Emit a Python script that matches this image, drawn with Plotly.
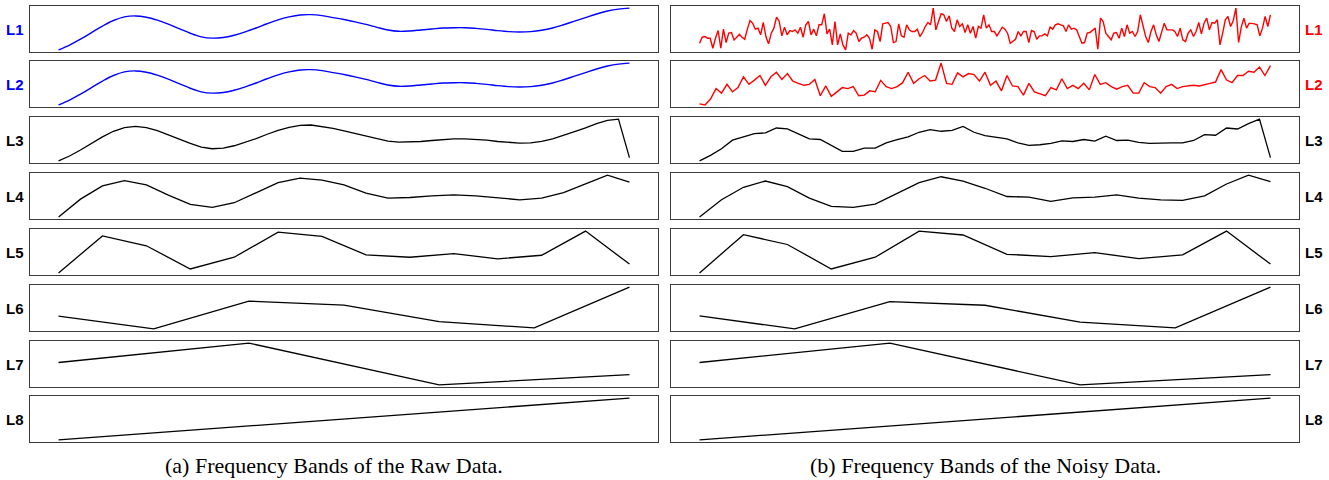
import plotly.graph_objects as go

W, H = 1329, 480

# ---------------- data (heights, arbitrary units) ----------------
row_labels = ["L1", "L2", "L3", "L4", "L5", "L6", "L7", "L8"]
caption_raw = "(a) Frequency Bands of the Raw Data."
caption_noisy = "(b) Frequency Bands of the Noisy Data."

raw_L1 = [7, 22, 40, 60, 80, 97, 108, 111, 107, 98, 86, 72, 58, 47, 43, 45, 52, 62, 74, 87,
          99, 108, 114, 115, 112, 106,
          100, 93, 85, 76, 68, 64, 65, 68, 71, 74, 75, 75, 73, 70, 66, 63, 62, 63, 67, 74,
          84, 95, 106, 117, 126, 132, 135]
raw_L2 = [7, 22, 40, 60, 80, 97, 108, 111, 107, 98, 86, 72, 58, 47, 43, 45, 52, 62, 74, 87,
          99, 108, 114, 115, 112, 106,
          100, 93, 85, 76, 68, 64, 65, 68, 71, 74, 75, 75, 73, 70, 66, 63, 62, 63, 67, 74,
          84, 95, 106, 117, 126, 132, 135]
raw_L3 = [5, 20, 38, 58, 78, 95, 106, 110, 106, 97, 85, 71, 58, 47, 42, 44, 51, 61, 73, 86,
          98, 107, 113, 114, 110, 104,
          96, 88, 79, 71, 65, 62, 62, 64, 67, 70, 72, 72, 71, 68, 64, 61, 59, 60, 64, 72,
          82, 94, 105, 118, 128, 132, 15]
raw_L4 = [4, 58, 98, 114, 101, 70, 42, 33, 47, 78, 108, 122, 116,
          101, 76, 61, 63, 68, 71, 68, 61, 56, 61, 78, 104, 131, 110]
raw_L5 = [5, 118, 88, 17, 53, 130, 117, 60, 53, 64, 48, 59, 133, 32]
raw_L6 = [46, 7, 92, 80, 29, 10, 135]
raw_L7 = [73, 132, 5, 36]
raw_L8 = [4, 132]

noisy_L1 = [25, 43, 45, 40, 40, 10, 40, 63, 10, 67, 27, 55, 57, 35, 43, 52, 43, 37, 67, 93,
            85, 67, 70, 50, 87, 45, 23, 55, 70, 103, 90, 47, 73, 50, 63, 60, 65, 55, 73, 43,
            80, 90, 50, 67, 47, 80, 80, 113, 53, 67, 20, 90, 20, 53, 20, 5, 55, 50, 63, 55,
            30, 40, 43, 50, 40, 7, 65, 60, 30, 83, 85, 87, 75, 27, 30, 83, 47, 43, 80, 65,
            60, 60, 67, 45, 57, 75, 87, 80, 130, 65, 90, 113, 110, 90, 107, 70, 60, 95, 75, 83,
            57, 80, 55, 75, 40, 75, 70, 110, 70, 80,
            60, 60, 47, 60, 73, 67, 55, 25, 30, 37, 60, 47, 60, 60, 27, 63, 60, 37, 47, 47,
            53, 47, 73, 67, 80, 83, 80, 77, 60, 80, 67, 70, 65, 47, 25, 27, 55, 57, 63, 70,
            7, 100, 90, 55, 45, 35, 55, 57, 40, 70, 45, 80, 55, 60, 45, 60, 110, 80, 45, 27,
            60, 80, 50, 30, 60, 85, 65, 65, 65, 60, 45, 70, 35, 30, 55, 65, 45, 60, 87, 53,
            85, 100, 65, 87, 85, 95, 20, 55, 95, 105, 75, 93, 130, 27, 73, 100, 70, 85, 85, 83,
            80, 47, 70, 105, 75, 110]
noisy_L2 = [8, 5, 23, 55, 41, 68, 45, 58, 91, 68, 81, 95, 65, 91, 105, 83, 101, 78, 71, 65,
            68, 83, 33, 63, 31, 45, 58, 55, 61, 33, 35, 48, 45, 80, 61, 55, 61, 73, 105, 71,
            85, 95, 78, 81, 133, 71, 68, 103, 91, 101, 98, 78, 105,
            65, 78, 48, 95, 63, 61, 35, 71, 45, 40, 33, 58, 51, 85, 55, 65, 55, 71, 51, 98,
            68, 73, 61, 53, 61, 65, 41, 41, 73, 61, 58, 41, 61, 68, 55, 61, 63, 65, 63, 68,
            71, 75, 113, 81, 73, 95, 95, 108, 105, 121, 95, 125]
noisy_L3 = [5, 22, 42, 68, 78, 88, 90, 105, 102, 88, 72, 70, 52, 34, 34, 44, 44, 60, 70, 78,
            92, 100, 95, 98, 110, 92, 82, 78,
            72, 60, 52, 54, 58, 66, 64, 70, 65, 80, 67, 68, 61, 58, 60, 60, 60, 67, 85, 83,
            105, 102, 118, 132, 15]
noisy_L4 = [5, 57, 95, 114, 97, 62, 37, 34, 44, 77, 109, 127, 114, 92,
            67, 65, 52, 63, 65, 72, 62, 57, 55, 69, 105, 132, 112]
noisy_L5 = [5, 122, 92, 17, 53, 133, 121, 62, 55, 67, 49, 60, 133, 32]
noisy_L6 = [48, 8, 92, 81, 29, 11, 137]
noisy_L7 = [73, 132, 5, 36]
noisy_L8 = [4, 132]

raw_series = [raw_L1, raw_L2, raw_L3, raw_L4, raw_L5, raw_L6, raw_L7, raw_L8]
noisy_series = [noisy_L1, noisy_L2, noisy_L3, noisy_L4, noisy_L5, noisy_L6, noisy_L7, noisy_L8]

BLUE, RED, BLACK = "#0000ff", "#ff0000", "#000000"
raw_colors = [BLUE, BLUE] + [BLACK] * 6
noisy_colors = [RED, RED] + [BLACK] * 6

# ---------------- layout geometry (pixels) ----------------
cols = [
    (raw_series, raw_colors, 30, 658),
    (noisy_series, noisy_colors, 671, 1299),
]
row_top0, row_step, row_h = 5.5, 55.85, 46

fig = go.Figure()
layout = {}
annotations = []

for r in range(8):
    top = round(row_top0 + r * row_step)
    y0 = 1 - (top + row_h) / H
    y1 = 1 - top / H
    for c, (series, colors, px0, px1) in enumerate(cols):
        idx = r * 2 + c + 1
        suf = "" if idx == 1 else str(idx)
        vals = series[r]
        n = len(vals)
        xs = list(range(n))
        pad_x = 0.05 * (n - 1)
        lo, hi = min(vals), max(vals)
        pad_y = 0.05 * (hi - lo)
        smooth = (c == 0 and r < 2)
        fig.add_trace(go.Scatter(
            x=xs, y=vals, mode="lines",
            line=dict(color=colors[r], width=1.4 if r < 2 else 1.3,
                      shape="spline" if smooth else "linear"),
            xaxis="x" + suf, yaxis="y" + suf,
            showlegend=False, hoverinfo="skip"))
        common = dict(showgrid=False, zeroline=False, showticklabels=False, ticks="",
                      showline=True, mirror=True, linecolor="#3a3a3a", linewidth=1.2,
                      fixedrange=True)
        layout["xaxis" + suf] = dict(domain=[px0 / W, px1 / W], range=[-pad_x, n - 1 + pad_x],
                                     anchor="y" + suf, **common)
        layout["yaxis" + suf] = dict(domain=[y0, y1], range=[lo - pad_y, hi + pad_y],
                                     anchor="x" + suf, **common)

    yc = 1 - (top + row_h / 2) / H
    annotations.append(dict(
        x=25.5 / W, y=yc, xref="paper", yref="paper", xanchor="right", yanchor="middle",
        text="<b>%s</b>" % row_labels[r], showarrow=False,
        font=dict(family="Liberation Sans, Arial, sans-serif", size=15, color=raw_colors[r])))
    annotations.append(dict(
        x=1302.5 / W, y=yc, xref="paper", yref="paper", xanchor="left", yanchor="middle",
        text="<b>%s</b>" % row_labels[r], showarrow=False,
        font=dict(family="Liberation Sans, Arial, sans-serif", size=15, color=noisy_colors[r])))

cap_y = 1 - 465 / H
annotations.append(dict(x=334 / W, y=cap_y, xref="paper", yref="paper", xanchor="center",
                        yanchor="middle", text=caption_raw, showarrow=False,
                        font=dict(family="Liberation Serif, Times New Roman, serif", size=22,
                                  color="#000000")))
annotations.append(dict(x=985 / W, y=cap_y, xref="paper", yref="paper", xanchor="center",
                        yanchor="middle", text=caption_noisy, showarrow=False,
                        font=dict(family="Liberation Serif, Times New Roman, serif", size=22,
                                  color="#000000")))

fig.update_layout(
    width=W, height=H, autosize=False,
    margin=dict(l=0, r=0, t=0, b=0, pad=0),
    paper_bgcolor="white", plot_bgcolor="white",
    annotations=annotations,
    **layout,
)

fig.write_html(
    "out.html",
    config={"displayModeBar": False, "staticPlot": True},
    post_script="document.body.style.margin='0';document.body.style.padding='0';"
                "document.body.style.overflow='hidden';",
)
